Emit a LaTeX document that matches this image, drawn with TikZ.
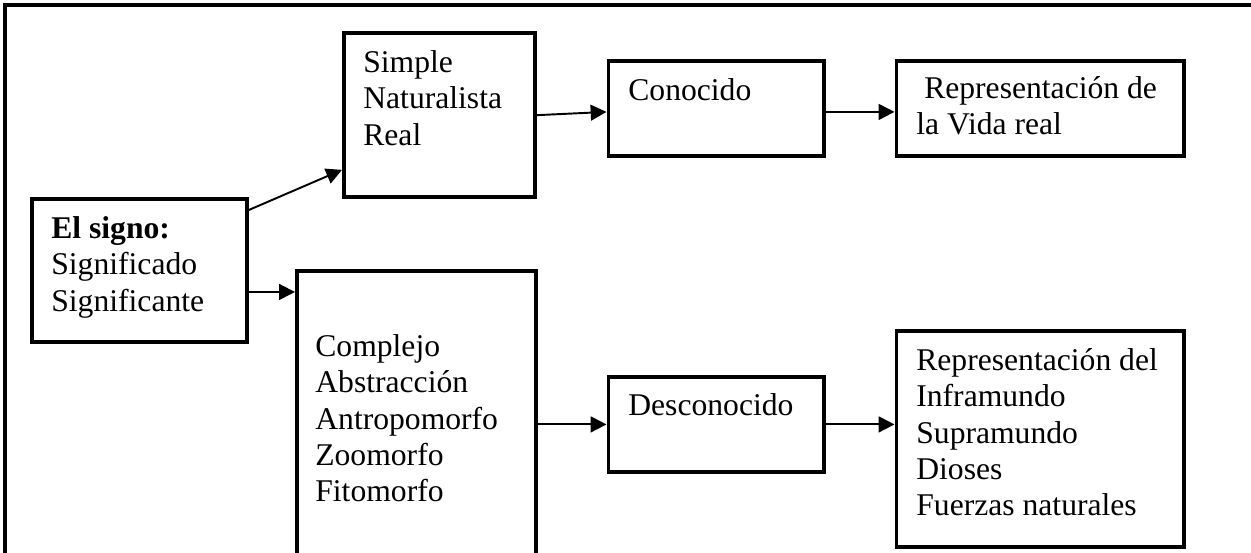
\documentclass[tikz,border=0pt]{standalone}
\usepackage{fontspec}
\setmainfont{Liberation Serif}
\usetikzlibrary{arrows.meta,calc}

\tikzset{
  box/.style={draw, line width=2.2pt, anchor=north west, inner sep=0pt},
  txt/.style={anchor=north west, inner sep=0pt, align=left, font=\fontsize{18pt}{20.7pt}\selectfont},
  arr/.style={line width=1.1pt, -{Triangle[length=9pt,width=9pt]}},
  frame/.style={line width=2.3pt}
}

\begin{document}
\begin{tikzpicture}[x=0.02cm, y=-0.02cm]

\useasboundingbox (0,0) rectangle (1251,553);
\clip (0,0) rectangle (1251,553);

% frame
\draw[frame] (5.3,570) -- (5.3,5.3) -- (1270,5.3);

% boxes
\node[box, minimum width=4.3cm, minimum height=2.86cm] (signo) at (30,197) {};
\node[box, minimum width=3.82cm, minimum height=3.27cm] (simple) at (342,31.5) {};
\node[box, minimum width=4.31cm, minimum height=1.9cm] (conocido) at (606.5,59) {};
\node[box, minimum width=5.75cm, minimum height=1.9cm] (vida) at (894.5,59) {};
\node[box, minimum width=4.78cm, minimum height=7.62cm] (complejo) at (295,269) {};
\node[box, minimum width=4.31cm, minimum height=1.9cm] (desconocido) at (606.5,375) {};
\node[box, minimum width=5.75cm, minimum height=4.32cm] (infra) at (894.5,329) {};

% labels
\node[txt] (signoT) at (51,216) {\textbf{El signo:}\\Significado\\Significante};
\node[txt] (simpleT) at (363,50) {Simple\\Naturalista\\Real};
\node[txt] (conocidoT) at (628,78) {Conocido};
\node[txt] (vidaT) at (916,76) {\hspace*{.25em}Representación de\\la Vida real};
\node[txt] (complejoT) at (315,334) {Complejo\\Abstracción\\Antropomorfo\\Zoomorfo\\Fitomorfo};
\node[txt] (desconocidoT) at (628,393) {Desconocido};
\node[txt] (infraT) at (916,348) {Representación del\\Inframundo\\Supramundo\\Dioses\\Fuerzas naturales};

% arrows
\coordinate (s1) at ([yshift=-0.26cm]signo.north east);
\coordinate (s2) at ([yshift=-1.9cm]signo.north east);
\draw[arr] (s1) -- ([yshift=0.58cm]simple.south west);
\draw[arr] (s2) -- (s2 -| complejo.west);
\draw[arr] (simple.east) -- ([yshift=-0.07cm]conocido.west);
\draw[arr] ([yshift=-0.07cm]conocido.east) -- ([yshift=-0.07cm]vida.west);
\draw[arr] (desconocido.west -| complejo.east) -- (desconocido.west);
\draw[arr] (desconocido.east) -- (desconocido.east -| infra.west);

\end{tikzpicture}
\end{document}
